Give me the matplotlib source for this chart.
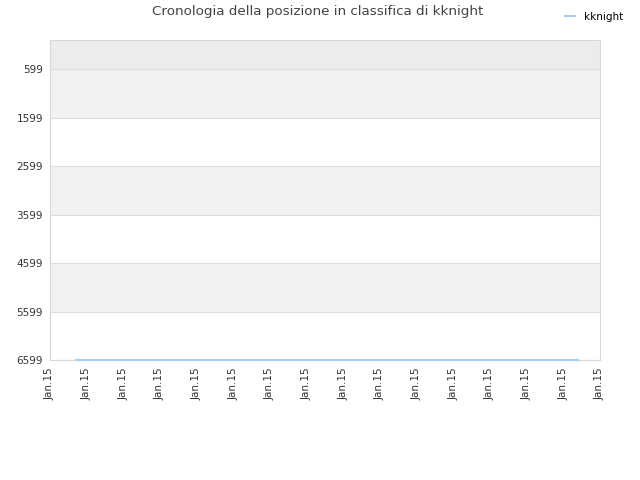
import matplotlib
matplotlib.use("Agg")
import matplotlib.pyplot as plt

# data
tick_labels = ["Jan.15"] * 16
tick_pos = list(range(16))
x_vals = [0.7, 14.4]
ranks = [6599, 6599]
y_ticks = [599, 1599, 2599, 3599, 4599, 5599, 6599]
y_top = 1
series_name = "kknight"

fig = plt.figure(figsize=(6.4, 4.8), dpi=100)
ax = fig.add_axes([50 / 640, 120 / 480, 550 / 640, 320 / 480])

# background bands
ax.axhspan(y_top, y_ticks[0], color="#ececec", zorder=0, lw=0)
for i in range(len(y_ticks) - 1):
    c = "#f2f2f2" if i % 2 == 0 else "white"
    ax.axhspan(y_ticks[i], y_ticks[i + 1], color=c, zorder=0, lw=0)
for y in y_ticks:
    ax.axhline(y, color="#dedede", lw=0.8, zorder=1)

ax.plot(x_vals, ranks, color="#a9cdf0", lw=1.5, zorder=5, label=series_name,
        clip_on=False)

ax.set_xlim(0, 15)
ax.set_ylim(6599, y_top)
ax.set_yticks(y_ticks)
ax.set_yticklabels([str(v) for v in y_ticks])
ax.set_xticks(tick_pos)
ax.set_xticklabels(tick_labels, rotation=90)
ax.tick_params(length=0, labelsize=7.5, colors="#333333", pad=5)

for s in ax.spines.values():
    s.set_color("#d8d8d8")
    s.set_linewidth(0.8)
    s.set_zorder(2)

fig.text(0.497, 0.975, "Cronologia della posizione in classifica di kknight",
         ha="center", va="center", fontsize=9.7, color="#444444")
fig.legend(loc="upper right", bbox_to_anchor=(0.988, 0.995), frameon=False,
           fontsize=7.5, handlelength=1.0, handletextpad=0.8)

fig.savefig("out.png", dpi=100)
